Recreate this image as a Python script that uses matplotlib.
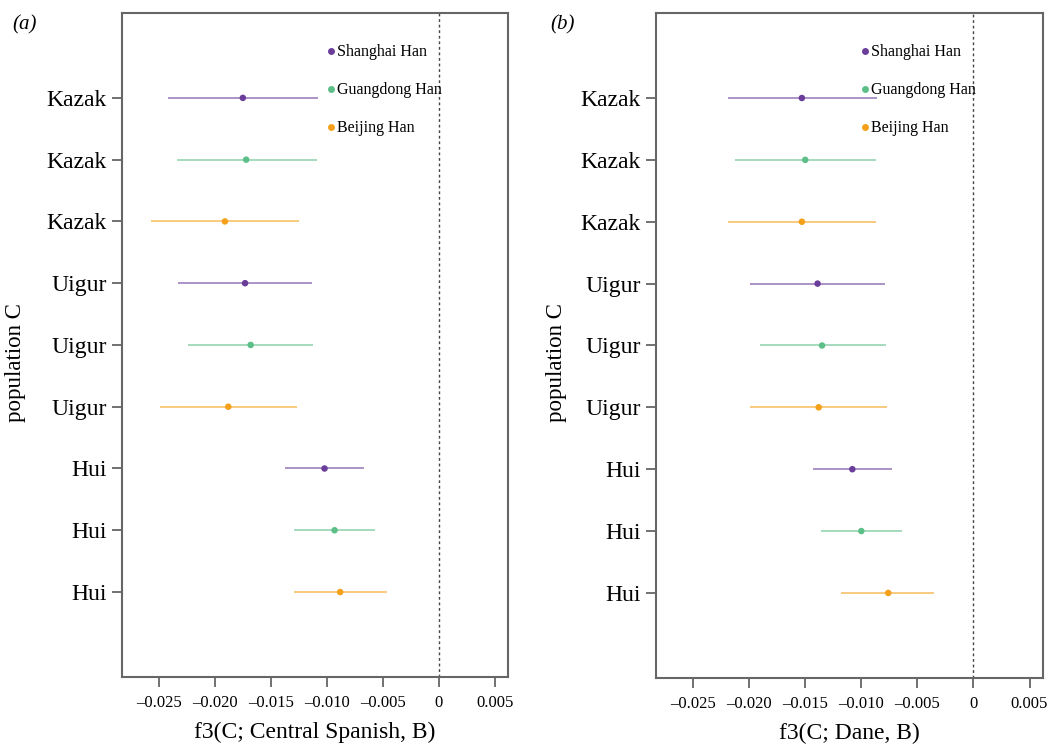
import numpy as np
import matplotlib
matplotlib.use("Agg")
import matplotlib.pyplot as plt
from matplotlib.lines import Line2D

plt.rcParams["font.family"] = ["Liberation Serif", "DejaVu Serif"]

# rows from top to bottom
populations = ["Kazak", "Kazak", "Kazak", "Uigur", "Uigur", "Uigur", "Hui", "Hui", "Hui"]
sources = ["Shanghai Han", "Guangdong Han", "Beijing Han"] * 3
source_colors = {"Shanghai Han": "#6a3d9a", "Guangdong Han": "#5cbf87", "Beijing Han": "#f5a01a"}

# panel (a): f3(C; Central Spanish, B)
a_est = [-0.0175, -0.0172, -0.0191, -0.0173, -0.0168, -0.0188, -0.0102, -0.0093, -0.0088]
a_low = [-0.0242, -0.0234, -0.0257, -0.0233, -0.0224, -0.0249, -0.0137, -0.0129, -0.0129]
a_high = [-0.0108, -0.0109, -0.0125, -0.0113, -0.0112, -0.0127, -0.0067, -0.0057, -0.0046]

# panel (b): f3(C; Dane, B)
b_est = [-0.0153, -0.0150, -0.0153, -0.0139, -0.0135, -0.0138, -0.0108, -0.0100, -0.0076]
b_low = [-0.0219, -0.0213, -0.0219, -0.0199, -0.0190, -0.0199, -0.0143, -0.0136, -0.0118]
b_high = [-0.0086, -0.0087, -0.0087, -0.0079, -0.0078, -0.0077, -0.0073, -0.0064, -0.0035]

xticks = [-0.025, -0.020, -0.015, -0.010, -0.005, 0, 0.005]
xticklabels = ["\u20130.025", "\u20130.020", "\u20130.015", "\u20130.010", "\u20130.005", "0", "0.005"]

fig = plt.figure(figsize=(10.59, 7.44), dpi=100)
ax_a = fig.add_axes([0.1152, 0.0901, 0.3645, 0.8925])
ax_b = fig.add_axes([0.6195, 0.0887, 0.3654, 0.8939])

panels = [
    (ax_a, a_est, a_low, a_high, "f3(C; Central Spanish, B)", -0.277),
    (ax_b, b_est, b_low, b_high, "f3(C; Dane, B)", -0.256),
]

ypos = np.arange(len(populations))[::-1] + 1

for ax, est, low, high, xlabel, ylab_x in panels:
    cols = [source_colors[s] for s in sources]
    ax.hlines(ypos, low, high, colors=cols, linewidth=1.3, alpha=0.6)
    ax.scatter(est, ypos, c=cols, s=22, zorder=3, linewidths=0)
    ax.axvline(0, color="#444444", linestyle=(0, (2, 2)), linewidth=1.0)

    ax.set_xlim(-0.0283, 0.0062)
    ax.set_ylim(-0.375, 10.375)
    ax.set_yticks(ypos)
    ax.set_yticklabels(populations, fontsize=17)
    ax.set_xticks(xticks)
    ax.set_xticklabels(xticklabels, fontsize=12)
    ax.tick_params(axis="y", length=7, width=1.3, color="#666666", pad=4)
    ax.tick_params(axis="x", length=7, width=1.3, color="#666666", pad=6)
    for sp in ax.spines.values():
        sp.set_color("#666666")
        sp.set_linewidth(1.5)

    ax.set_xlabel(xlabel, fontsize=17, labelpad=8)
    ax.set_ylabel("population C", fontsize=16.5, va="center")
    ax.yaxis.set_label_coords(ylab_x, 0.474)

    handles = [Line2D([], [], marker="o", linestyle="", markersize=5,
                      markerfacecolor=source_colors[s], markeredgewidth=0)
               for s in ["Shanghai Han", "Guangdong Han", "Beijing Han"]]
    ax.legend(handles, ["Shanghai Han", "Guangdong Han", "Beijing Han"],
              loc="upper left", bbox_to_anchor=(0.533, 0.953), frameon=False,
              fontsize=11.5, handlelength=0.4, handletextpad=0.15,
              labelspacing=1.38, borderpad=0, borderaxespad=0)

fig.text(12 / 1059, 1 - 25 / 744, "(a)", fontsize=15, style="italic", va="center", ha="left")
fig.text(550 / 1059, 1 - 25 / 744, "(b)", fontsize=15, style="italic", va="center", ha="left")

fig.savefig("out.png", dpi=100)
